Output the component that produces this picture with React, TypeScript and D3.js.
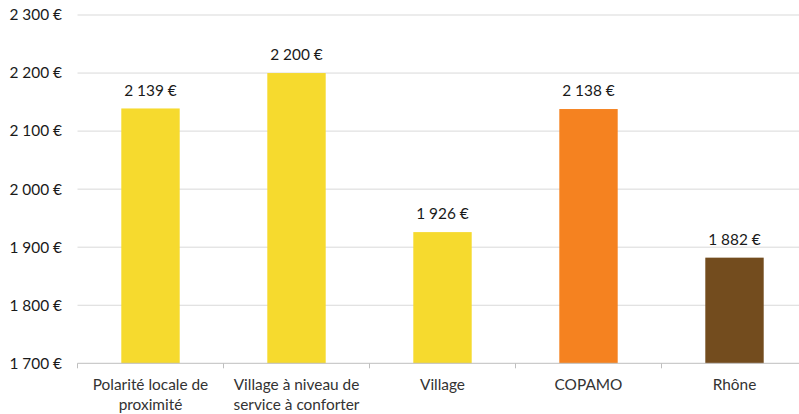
import React from "react";
import * as d3 from "d3";

const categories: string[][] = [
  ["Polarité locale de", "proximité"],
  ["Village à niveau de", "service à conforter"],
  ["Village"],
  ["COPAMO"],
  ["Rhône"],
];
const values: number[] = [2139, 2200, 1926, 2138, 1882];
const barColors: string[] = ["#F6DA2E", "#F6DA2E", "#F6DA2E", "#F58220", "#734C1E"];
const yTicks: number[] = [1700, 1800, 1900, 2000, 2100, 2200, 2300];

const W = 799;
const H = 414;
const left = 77.5;
const band = 146;
const top = 15;
const bottom = 363.3;

const fmt = (v: number) => {
  const s = String(v);
  return s.length > 3 ? s.slice(0, s.length - 3) + "\u00a0" + s.slice(-3) + "\u00a0€" : s + "\u00a0€";
};

export default function App() {
  const x = d3
    .scaleBand<number>()
    .domain(d3.range(categories.length))
    .range([left, left + band * categories.length])
    .paddingInner(0.6)
    .paddingOuter(0.3);
  const y = d3.scaleLinear().domain([1700, 2300]).range([bottom, top]);
  const font = "Lato, sans-serif";
  const fs = 15.4;
  return (
    <svg
      width={W}
      height={H}
      style={{ position: "absolute", left: 0, top: 0, background: "#fff" }}
      fontFamily={font}
    >
      {yTicks.map((t) => (
        <g key={t}>
          {t !== 1700 && (
            <line x1={left} x2={W} y1={y(t)} y2={y(t)} stroke="#d9d9d9" strokeWidth={1} />
          )}
          <text x={62} y={y(t)} dy="0.35em" textAnchor="end" fontSize={fs} fill="#1a1a1a">
            {fmt(t)}
          </text>
        </g>
      ))}
      {values.map((v, i) => (
        <g key={i}>
          <rect
            x={x(i)!}
            y={y(v)}
            width={x.bandwidth()}
            height={bottom - y(v)}
            fill={barColors[i]}
          />
          <text
            x={x(i)! + x.bandwidth() / 2}
            y={y(v) - 18}
            dy="0.35em"
            textAnchor="middle"
            fontSize={fs}
            fill="#1a1a1a"
          >
            {fmt(v)}
          </text>
          {categories[i].map((line, j) => (
            <text
              key={j}
              x={x(i)! + x.bandwidth() / 2}
              y={385 + j * 19.5}
              dy="0.35em"
              textAnchor="middle"
              fontSize={fs}
              fill="#333"
            >
              {line}
            </text>
          ))}
        </g>
      ))}
      <line x1={left} x2={W} y1={bottom} y2={bottom} stroke="#bfbfbf" strokeWidth={1} />
      {d3.range(categories.length + 1).map((i) => (
        <line
          key={i}
          x1={left + i * band}
          x2={left + i * band}
          y1={bottom}
          y2={bottom + 5}
          stroke="#bfbfbf"
          strokeWidth={1}
        />
      ))}
    </svg>
  );
}
